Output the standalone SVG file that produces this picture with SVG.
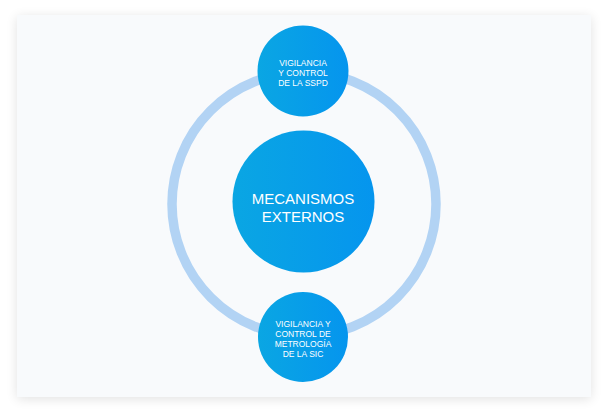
<svg xmlns="http://www.w3.org/2000/svg" width="608" height="416" viewBox="0 0 608 416">
  <style>
    .lbl { font-family: "Liberation Sans", Arial, sans-serif; fill: #ffffff; text-anchor: middle; }
    .small { font-size: 8.5px; }
    .big { font-size: 15px; }
    .node { fill: url(#g); }
  </style>
  <defs>
    <linearGradient id="g" x1="0" y1="0" x2="1" y2="0">
      <stop offset="0" stop-color="#0aa6e3"/>
      <stop offset="1" stop-color="#0595ee"/>
    </linearGradient>
    <filter id="sh" x="-10%" y="-10%" width="120%" height="120%">
      <feGaussianBlur in="SourceAlpha" stdDeviation="6"/>
      <feOffset dx="0" dy="2"/>
      <feComponentTransfer><feFuncA type="linear" slope="0.12"/></feComponentTransfer>
      <feMerge><feMergeNode/><feMergeNode in="SourceGraphic"/></feMerge>
    </filter>
  </defs>
  <rect width="608" height="416" fill="#ffffff"/>
  <rect x="17" y="15" width="574" height="382" fill="#f8fafc" filter="url(#sh)"/>
  <g id="connectors">
    <circle cx="304" cy="204" r="132" fill="none" stroke="#b2d3f4" stroke-width="9.5"/>
  </g>
  <g id="node-center">
    <circle class="node" cx="303.5" cy="201.5" r="71"/>
    <text class="lbl big" x="303" y="204">MECANISMOS</text>
    <text class="lbl big" x="303" y="222">EXTERNOS</text>
  </g>
  <g id="node-top">
    <circle class="node" cx="303" cy="71" r="45.5"/>
    <text class="lbl small" x="303" y="65.5">VIGILANCIA</text>
    <text class="lbl small" x="303" y="75.5">Y CONTROL</text>
    <text class="lbl small" x="303" y="85.5">DE LA SSPD</text>
  </g>
  <g id="node-bottom">
    <circle class="node" cx="303" cy="337" r="45"/>
    <text class="lbl small" x="303" y="326.5">VIGILANCIA Y</text>
    <text class="lbl small" x="303" y="336.5">CONTROL DE</text>
    <text class="lbl small" x="303" y="346.5">METROLOGÍA</text>
    <text class="lbl small" x="303" y="356.5">DE LA SIC</text>
  </g>
</svg>
